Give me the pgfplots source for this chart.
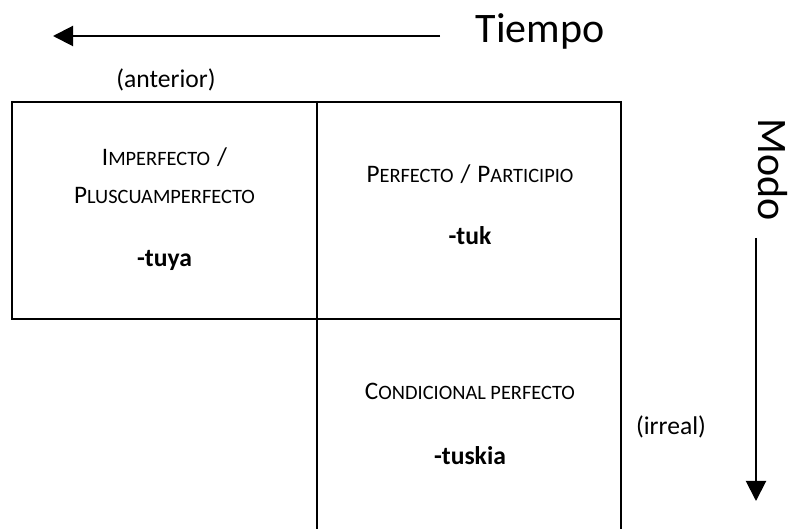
\documentclass[border=0pt]{standalone}
\usepackage{pgfplots}
\pgfplotsset{compat=1.18}
\usepackage{fontspec}
\setmainfont{Carlito}
\usetikzlibrary{arrows.meta}
\newcommand{\body}{\fontsize{25.6}{30}\selectfont}
\newcommand{\SC}[2]{{\fontsize{25.2}{30}\selectfont #1}{\fontsize{20.4}{24}\selectfont #2}}
\tikzset{ln/.style={black, line width=2.2pt, mark=none}}
\begin{document}
\begin{tikzpicture}
\begin{axis}[
  width=788pt, height=529pt, scale only axis,
  xmin=0, xmax=788, ymin=0, ymax=529, y dir=reverse,
  hide axis, clip=false,
]
% boxes
\addplot[ln] coordinates {(12,102) (621,102)};
\addplot[ln] coordinates {(12,319) (621,319)};
\addplot[ln] coordinates {(12,101) (12,320)};
\addplot[ln] coordinates {(317,101) (317,529)};
\addplot[ln] coordinates {(621,101) (621,529)};
% arrows
\addplot[ln, line width=2pt, -{Triangle[length=20pt,width=20pt]}] coordinates {(440,36) (53,36)};
\addplot[ln, line width=2pt, -{Triangle[length=20pt,width=20pt]}] coordinates {(756,238) (756,501)};
% texts
\node[anchor=base] at (axis cs:540,43) {\fontsize{42}{50}\selectfont Tiempo};
\node[anchor=base, rotate=-90] at (axis cs:758,170) {\fontsize{42}{50}\selectfont Modo};
\node[anchor=base] at (axis cs:166,88) {\body (anterior)};
\node[anchor=base] at (axis cs:671,435) {\body (irreal)};
\node[anchor=base] at (axis cs:164.5,166) {\SC{I}{MPERFECTO}\hspace{7pt}\body /};
\node[anchor=base] at (axis cs:164.5,204) {\SC{P}{LUSCUAMPERFECTO}};
\node[anchor=base] at (axis cs:164.5,267) {\body\bfseries -tuya};
\node[anchor=base] at (axis cs:470,183) {\SC{P}{ERFECTO}\hspace{7pt}\body /\hspace{7pt}\SC{P}{ARTICIPIO}};
\node[anchor=base] at (axis cs:470,245) {\body\bfseries -tuk};
\node[anchor=base] at (axis cs:470,400) {\SC{C}{ONDICIONAL PERFECTO}};
\node[anchor=base] at (axis cs:470,465) {\body\bfseries -tuskia};
\end{axis}
\pgfresetboundingbox
\path (current axis.south west) rectangle (current axis.north east);
\end{tikzpicture}
\end{document}
